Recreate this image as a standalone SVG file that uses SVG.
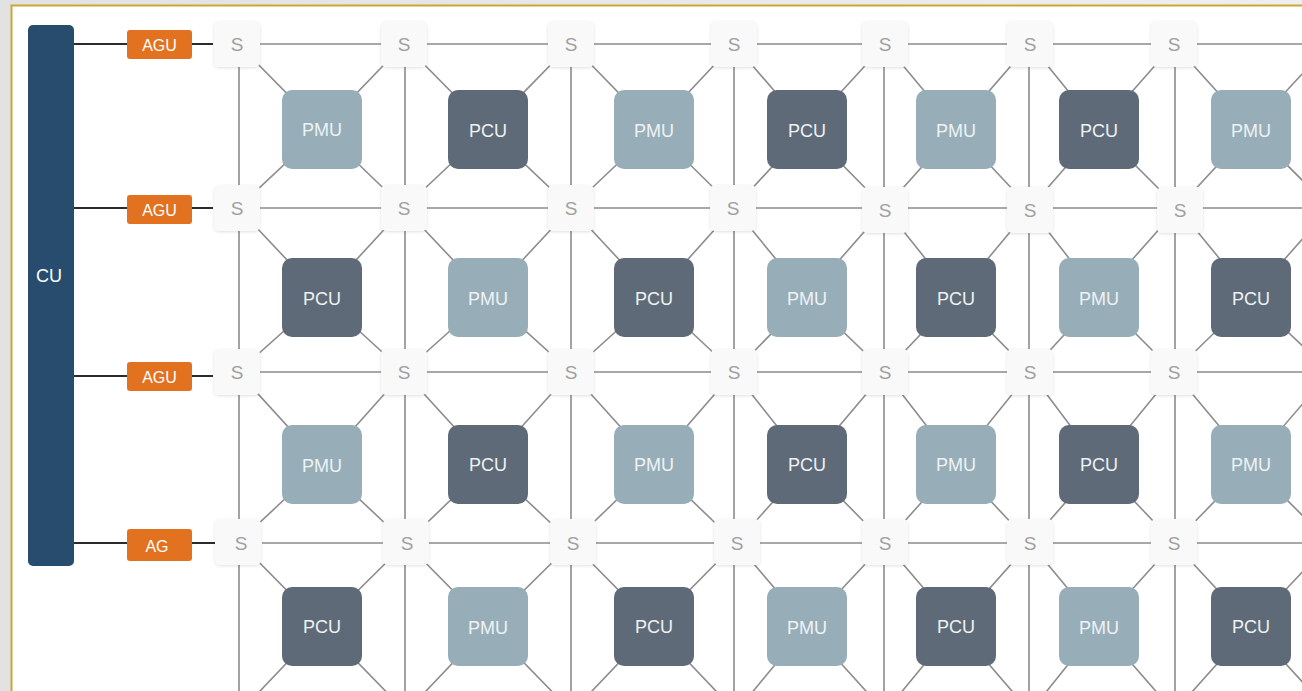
<svg xmlns="http://www.w3.org/2000/svg" width="1302" height="691" viewBox="0 0 1302 691">
<defs>
<linearGradient id="bg" x1="0" y1="0" x2="1" y2="0"><stop offset="0" stop-color="#e2e2e2"/><stop offset="1" stop-color="#efefef"/></linearGradient>
<filter id="sh" x="-30%" y="-30%" width="160%" height="160%"><feDropShadow dx="0" dy="1" stdDeviation="1.5" flood-color="#000" flood-opacity="0.12"/></filter>
</defs>
<style>
.g{stroke:#8c8c8c;stroke-width:1.6;fill:none}
.k{stroke:#2b2b2b;stroke-width:2;fill:none}
.s rect{fill:#f9f9f9;filter:url(#sh)}
.s text{fill:#a0a0a0;font:19px "Liberation Sans",Arial,sans-serif;text-anchor:middle}
.pmu rect{fill:#97aeb9}
.pcu rect{fill:#5e6a77}
.b text{fill:#eef2f4;font:18px "Liberation Sans",Arial,sans-serif;text-anchor:middle}
.agu rect{fill:#e27220}
.agu text{fill:#ffffff;font:16px "Liberation Sans",Arial,sans-serif;text-anchor:middle}
</style>
<rect width="1302" height="691" fill="url(#bg)"/>
<rect x="11.5" y="5.5" width="1300" height="700" fill="#ffffff" stroke="#c9a83a" stroke-width="2"/>
<g id="connectors">
<path class="k" d="M73 44H213M73 208H213M73 376H213M73 543H215"/>
<path class="g" d="M259 44H1302M259 208H1302M259 372H1302M262 543H1302"/>
<path class="g" d="M239 66V691M405 66V691M571 66V691M734 66V691M884 66V691M1029 66V691M1175 66V691"/>
<path class="g" d="
M238 44L322 129L404 44M238 208L322 129L404 208
M404 44L488 129L571 44M404 208L488 129L571 208
M571 44L654 129L734 44M571 208L654 129L734 208
M734 44L807 129L885 44M734 208L807 129L885 208
M885 44L956 129L1030 44M885 208L956 129L1030 208
M1030 44L1099 129L1174 44M1030 208L1099 129L1178 208
M1174 44L1251 129L1330 44M1178 208L1251 129L1330 208
M238 208L322 297L404 208M238 372L322 297L404 372
M404 208L488 297L571 208M404 372L488 297L571 372
M571 208L654 297L734 208M571 372L654 297L734 372
M734 208L807 297L885 208M734 372L807 297L885 372
M885 208L956 297L1030 208M885 372L956 297L1030 372
M1030 208L1099 297L1178 208M1030 372L1099 297L1174 372
M1178 208L1251 297L1330 208M1174 372L1251 297L1330 372
M238 372L322 464L404 372M238 543L322 464L406 543
M404 372L488 464L571 372M406 543L488 464L572 543
M571 372L654 464L734 372M572 543L654 464L736 543
M734 372L807 464L885 372M736 543L807 464L885 543
M885 372L956 464L1030 372M885 543L956 464L1030 543
M1030 372L1099 464L1174 372M1030 543L1099 464L1174 543
M1174 372L1251 464L1330 372M1174 543L1251 464L1330 543
M240 543L322 626L406 543M240 712L322 626L406 712
M406 543L488 626L572 543M406 712L488 626L572 712
M572 543L654 626L736 543M572 712L654 626L736 712
M736 543L807 626L885 543M736 712L807 626L885 712
M885 543L956 626L1030 543M885 712L956 626L1030 712
M1030 543L1099 626L1174 543M1030 712L1099 626L1174 712
M1174 543L1251 626L1330 543M1174 712L1251 626L1330 712"/>
</g>
<g id="cu"><rect x="28" y="25" width="46" height="541" rx="5" fill="#274c6e"/><text x="49" y="282" fill="#ffffff" font-family="Liberation Sans, Arial, sans-serif" font-size="18" text-anchor="middle">CU</text></g>
<g id="agu1" class="agu"><rect x="127" y="30" width="65" height="29" rx="3"/><text x="159.5" y="50.5">AGU</text></g>
<g id="agu2" class="agu"><rect x="127" y="195" width="65" height="29" rx="3"/><text x="159.5" y="215.5">AGU</text></g>
<g id="agu3" class="agu"><rect x="127" y="362" width="65" height="29" rx="3"/><text x="159.5" y="382.5">AGU</text></g>
<g id="agu4" class="agu"><rect x="127" y="529" width="65" height="32" rx="3"/><text x="157" y="551.5">AG</text></g>
<g id="s11" class="s"><rect x="214" y="21" width="46" height="46" rx="5"/><text x="237" y="51">S</text></g>
<g id="s12" class="s"><rect x="381" y="21" width="46" height="46" rx="5"/><text x="404" y="51">S</text></g>
<g id="s13" class="s"><rect x="548" y="21" width="46" height="46" rx="5"/><text x="571" y="51">S</text></g>
<g id="s14" class="s"><rect x="711" y="21" width="46" height="46" rx="5"/><text x="734" y="51">S</text></g>
<g id="s15" class="s"><rect x="862" y="21" width="46" height="46" rx="5"/><text x="885" y="51">S</text></g>
<g id="s16" class="s"><rect x="1007" y="21" width="46" height="46" rx="5"/><text x="1030" y="51">S</text></g>
<g id="s17" class="s"><rect x="1151" y="21" width="46" height="46" rx="5"/><text x="1174" y="51">S</text></g>
<g id="s21" class="s"><rect x="214" y="185" width="46" height="46" rx="5"/><text x="237" y="215">S</text></g>
<g id="s22" class="s"><rect x="381" y="185" width="46" height="46" rx="5"/><text x="404" y="215">S</text></g>
<g id="s23" class="s"><rect x="548" y="185" width="46" height="46" rx="5"/><text x="571" y="215">S</text></g>
<g id="s24" class="s"><rect x="710" y="185" width="46" height="46" rx="5"/><text x="733" y="215">S</text></g>
<g id="s25" class="s"><rect x="862" y="187" width="46" height="46" rx="5"/><text x="885" y="217">S</text></g>
<g id="s26" class="s"><rect x="1007" y="187" width="46" height="46" rx="5"/><text x="1030" y="217">S</text></g>
<g id="s27" class="s"><rect x="1157" y="187" width="46" height="46" rx="5"/><text x="1180" y="217">S</text></g>
<g id="s31" class="s"><rect x="214" y="349" width="46" height="46" rx="5"/><text x="237" y="379">S</text></g>
<g id="s32" class="s"><rect x="381" y="349" width="46" height="46" rx="5"/><text x="404" y="379">S</text></g>
<g id="s33" class="s"><rect x="548" y="349" width="46" height="46" rx="5"/><text x="571" y="379">S</text></g>
<g id="s34" class="s"><rect x="711" y="349" width="46" height="46" rx="5"/><text x="734" y="379">S</text></g>
<g id="s35" class="s"><rect x="862" y="349" width="46" height="46" rx="5"/><text x="885" y="379">S</text></g>
<g id="s36" class="s"><rect x="1007" y="349" width="46" height="46" rx="5"/><text x="1030" y="379">S</text></g>
<g id="s37" class="s"><rect x="1151" y="349" width="46" height="46" rx="5"/><text x="1174" y="379">S</text></g>
<g id="s41" class="s"><rect x="215" y="519" width="46" height="46" rx="5"/><text x="241" y="550">S</text></g>
<g id="s42" class="s"><rect x="383" y="519" width="46" height="46" rx="5"/><text x="407" y="550">S</text></g>
<g id="s43" class="s"><rect x="550" y="519" width="46" height="46" rx="5"/><text x="573" y="550">S</text></g>
<g id="s44" class="s"><rect x="714" y="519" width="46" height="46" rx="5"/><text x="737" y="550">S</text></g>
<g id="s45" class="s"><rect x="862" y="519" width="46" height="46" rx="5"/><text x="885" y="550">S</text></g>
<g id="s46" class="s"><rect x="1007" y="519" width="46" height="46" rx="5"/><text x="1030" y="550">S</text></g>
<g id="s47" class="s"><rect x="1151" y="519" width="46" height="46" rx="5"/><text x="1174" y="550">S</text></g>
<g id="b11" class="b pmu"><rect x="282" y="90" width="80" height="79" rx="10"/><text x="322" y="136">PMU</text></g>
<g id="b12" class="b pcu"><rect x="448" y="90" width="80" height="79" rx="10"/><text x="488" y="137">PCU</text></g>
<g id="b13" class="b pmu"><rect x="614" y="90" width="80" height="79" rx="10"/><text x="654" y="137">PMU</text></g>
<g id="b14" class="b pcu"><rect x="767" y="90" width="80" height="79" rx="10"/><text x="807" y="137">PCU</text></g>
<g id="b15" class="b pmu"><rect x="916" y="90" width="80" height="79" rx="10"/><text x="956" y="137">PMU</text></g>
<g id="b16" class="b pcu"><rect x="1059" y="90" width="80" height="79" rx="10"/><text x="1099" y="137">PCU</text></g>
<g id="b17" class="b pmu"><rect x="1211" y="90" width="80" height="79" rx="10"/><text x="1251" y="137">PMU</text></g>
<g id="b21" class="b pcu"><rect x="282" y="258" width="80" height="79" rx="10"/><text x="322" y="305">PCU</text></g>
<g id="b22" class="b pmu"><rect x="448" y="258" width="80" height="79" rx="10"/><text x="488" y="305">PMU</text></g>
<g id="b23" class="b pcu"><rect x="614" y="258" width="80" height="79" rx="10"/><text x="654" y="305">PCU</text></g>
<g id="b24" class="b pmu"><rect x="767" y="258" width="80" height="79" rx="10"/><text x="807" y="305">PMU</text></g>
<g id="b25" class="b pcu"><rect x="916" y="258" width="80" height="79" rx="10"/><text x="956" y="305">PCU</text></g>
<g id="b26" class="b pmu"><rect x="1059" y="258" width="80" height="79" rx="10"/><text x="1099" y="305">PMU</text></g>
<g id="b27" class="b pcu"><rect x="1211" y="258" width="80" height="79" rx="10"/><text x="1251" y="305">PCU</text></g>
<g id="b31" class="b pmu"><rect x="282" y="425" width="80" height="79" rx="10"/><text x="322" y="472">PMU</text></g>
<g id="b32" class="b pcu"><rect x="448" y="425" width="80" height="79" rx="10"/><text x="488" y="471">PCU</text></g>
<g id="b33" class="b pmu"><rect x="614" y="425" width="80" height="79" rx="10"/><text x="654" y="471">PMU</text></g>
<g id="b34" class="b pcu"><rect x="767" y="425" width="80" height="79" rx="10"/><text x="807" y="471">PCU</text></g>
<g id="b35" class="b pmu"><rect x="916" y="425" width="80" height="79" rx="10"/><text x="956" y="471">PMU</text></g>
<g id="b36" class="b pcu"><rect x="1059" y="425" width="80" height="79" rx="10"/><text x="1099" y="471">PCU</text></g>
<g id="b37" class="b pmu"><rect x="1211" y="425" width="80" height="79" rx="10"/><text x="1251" y="471">PMU</text></g>
<g id="b41" class="b pcu"><rect x="282" y="587" width="80" height="79" rx="10"/><text x="322" y="633">PCU</text></g>
<g id="b42" class="b pmu"><rect x="448" y="587" width="80" height="79" rx="10"/><text x="488" y="634">PMU</text></g>
<g id="b43" class="b pcu"><rect x="614" y="587" width="80" height="79" rx="10"/><text x="654" y="633">PCU</text></g>
<g id="b44" class="b pmu"><rect x="767" y="587" width="80" height="79" rx="10"/><text x="807" y="634">PMU</text></g>
<g id="b45" class="b pcu"><rect x="916" y="587" width="80" height="79" rx="10"/><text x="956" y="633">PCU</text></g>
<g id="b46" class="b pmu"><rect x="1059" y="587" width="80" height="79" rx="10"/><text x="1099" y="634">PMU</text></g>
<g id="b47" class="b pcu"><rect x="1211" y="587" width="80" height="79" rx="10"/><text x="1251" y="633">PCU</text></g>
</svg>
